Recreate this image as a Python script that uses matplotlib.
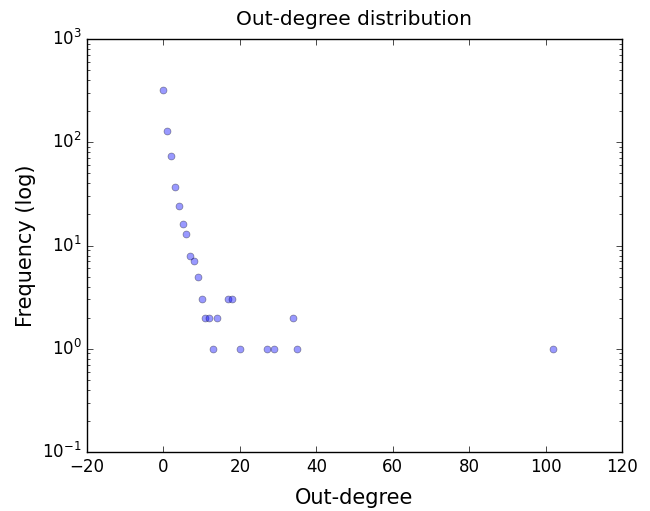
import matplotlib
matplotlib.use('Agg')
import matplotlib.pyplot as plt

plt.style.use('classic')

# out-degree vs. how many nodes have it
degree = [0, 1, 2, 3, 4, 5, 6, 7, 8, 9, 10, 11, 12, 13, 14, 17, 18, 20, 27, 29, 34, 35, 102]
freq = [320, 128, 73, 37, 24, 16, 13, 8, 7, 5, 3, 2, 2, 1, 2, 3, 3, 1, 1, 1, 2, 1, 1]

fig = plt.figure(figsize=(6.5, 5.11), dpi=100, facecolor='white')
ax = fig.add_axes([87 / 650, 1 - 452 / 511, (622 - 87) / 650, (452 - 39) / 511])

ax.scatter(degree, freq, s=25, c='b', alpha=0.4, edgecolors='k', linewidths=0.5)
ax.set_yscale('log')
ax.set_xlim(-20, 120)
ax.set_ylim(0.1, 1000)
ax.set_title('Out-degree distribution', fontsize=14.5, pad=10)
ax.set_xlabel('Out-degree', fontsize=15, labelpad=9)
ax.set_ylabel('Frequency (log)', fontsize=15, labelpad=4)
ax.tick_params(labelsize=12)

fig.savefig('out.png', dpi=100, facecolor='white')
